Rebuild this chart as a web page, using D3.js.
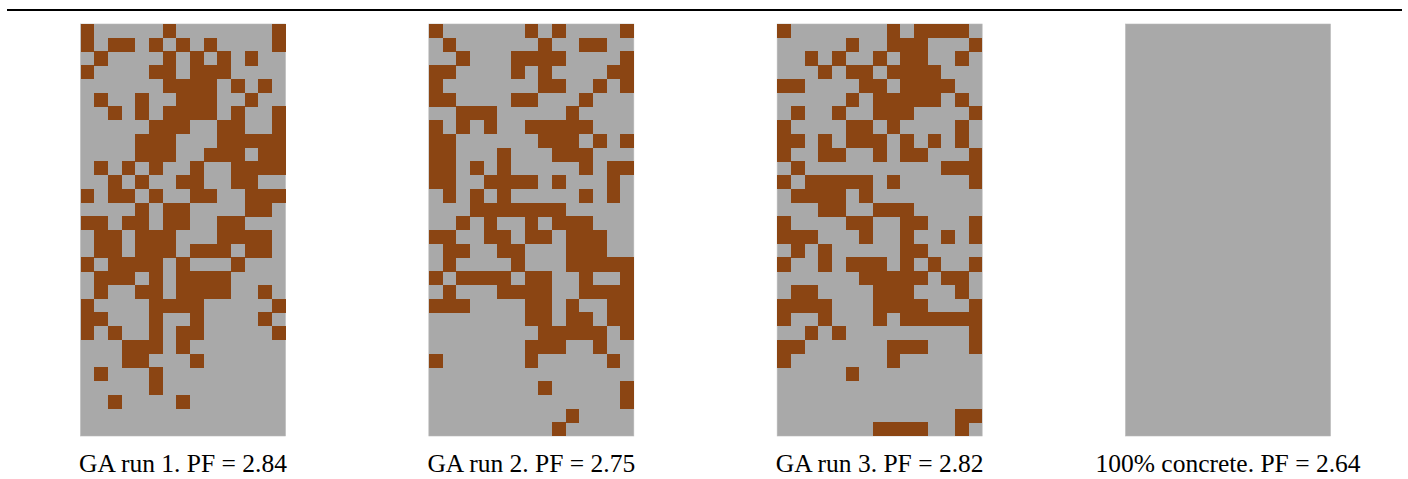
<!DOCTYPE html>
<html>
<head>
<meta charset="utf-8">
<script src="https://cdn.jsdelivr.net/npm/d3@7"></script>
<style>
  html, body { margin: 0; padding: 0; background: #ffffff; }
  svg { display: block; }
</style>
</head>
<body>
<svg id="chart" width="1408" height="479"></svg>
<script>
// ---- Data ----
const panelIds = ["run1", "run2", "run3", "concrete"];
const captions = ["GA run 1. PF = 2.84", "GA run 2. PF = 2.75", "GA run 3. PF = 2.82", "100% concrete. PF = 2.64"];
const materials = ["concrete", "brick"];  // '.' = concrete, '#' = second material

const gridRun1 = [
  "#.....#.......#",
  "#.##.#.#.#....#",
  ".#....#.#.#.#..",
  "#....##.###....",
  "......####.#.#.",
  ".#..#..###..#..",
  "..#.#.####.#..#",
  ".....###..##..#",
  "....###...#####",
  "....###..###.##",
  ".#.#.#..#..####",
  "..#.#..##..##..",
  "#.##.#..##..###",
  "....#.##....##.",
  "##.##.##..##...",
  ".##.###...####.",
  ".##.###.###.##.",
  "#.####.#...#...",
  ".###.#.####....",
  ".#..##.####..#.",
  "#....####.....#",
  "##...#..#....#.",
  "#.#..#.##.....#",
  "...###.#.......",
  "...##...#......",
  ".#...#.........",
  ".....#.........",
  "..#....#.......",
  "...............",
  "..............."
];

const gridRun2 = [
  "#......#.#....#",
  ".#......#..##..",
  "..#...####....#",
  "##....#.#....##",
  "#.......##..#.#",
  "##....##...#...",
  "..###.....#....",
  "#.#.#..#####...",
  "##......###.#.#",
  "##...#...###...",
  "##.#.#.....#.##",
  "##..####.#...#.",
  ".#.#.#.....#.#.",
  "...#######.....",
  "..#.#..#.###...",
  "##..##.##.###..",
  ".##..##...###..",
  ".#....#...#####",
  "#.####.##..#..#",
  ".#...####..####",
  "###....##.#..##",
  ".......##.##.##",
  "........#####.#",
  ".......###..#..",
  "#......#.....#.",
  "...............",
  "........#.....#",
  "..............#",
  "..........#....",
  ".........#....."
];

const gridRun3 = [
  "#.......#.####.",
  ".....#..###...#",
  "..#.#..#.##..#.",
  "...#.##.####...",
  "##....##.####..",
  ".....#.#####.#.",
  ".#..#..###....#",
  "#....##.#....#.",
  "##.#.###.#.#.#.",
  "#..##..#.##...#",
  ".#..........###",
  "#.#####.#.....#",
  ".####.#........",
  "...##..###.....",
  "#....##..##...#",
  "###...#..#..#.#",
  ".#.#.....##....",
  "#..#.###.#.#..#",
  "......#####.##.",
  ".##....###...#.",
  "####...####...#",
  "#..#...#.######",
  "..#.#.........#",
  "##......###...#",
  "#.......#......",
  ".....#.........",
  "...............",
  "...............",
  ".............##",
  ".......####..#."
];

const gridConcrete = [
  "...............", "...............", "...............", "...............", "...............",
  "...............", "...............", "...............", "...............", "...............",
  "...............", "...............", "...............", "...............", "...............",
  "...............", "...............", "...............", "...............", "...............",
  "...............", "...............", "...............", "...............", "...............",
  "...............", "...............", "...............", "...............", "..............."
];

const grids = [gridRun1, gridRun2, gridRun3, gridConcrete];

// ---- Layout ----
const panelW = 205, panelH = 412, panelTop = 24;
const svg = d3.select("#chart");

// top rule
svg.append("line")
  .attr("x1", 7).attr("x2", 1402)
  .attr("y1", 10).attr("y2", 10)
  .attr("stroke", "#000").attr("stroke-width", 2);

const panelX = d3.scalePoint().domain(panelIds).range([183, 1228]);
const color = d3.scaleOrdinal().domain(materials).range(["#A9A9A9", "#8B4513"]);

const nCols = gridRun1[0].length, nRows = gridRun1.length;
const xCell = d3.scaleBand().domain(d3.range(nCols)).range([0, panelW]);
const yCell = d3.scaleBand().domain(d3.range(nRows)).range([0, panelH]);

panelIds.forEach((id, i) => {
  const g = svg.append("g")
    .attr("transform", `translate(${panelX(id) - panelW / 2},${panelTop})`);
  // concrete background of the section
  g.append("rect")
    .attr("x", 0).attr("y", 0)
    .attr("width", panelW).attr("height", panelH)
    .attr("fill", color("concrete"))
    .attr("stroke", "#B8B8B8").attr("stroke-width", 0.6);

  const cells = [];
  grids[i].forEach((row, r) => {
    row.split("").forEach((ch, c) => {
      cells.push({ r, c, m: ch === "#" ? "brick" : "concrete" });
    });
  });
  g.selectAll("rect.cell")
    .data(cells.filter(d => d.m === "brick"))
    .join("rect")
    .attr("class", "cell")
    .attr("x", d => xCell(d.c))
    .attr("y", d => yCell(d.r))
    .attr("width", xCell.bandwidth() + 0.3)
    .attr("height", yCell.bandwidth() + 0.3)
    .attr("fill", d => color(d.m))
    .attr("shape-rendering", "crispEdges");

  svg.append("text")
    .attr("x", panelX(id))
    .attr("y", 472)
    .attr("text-anchor", "middle")
    .attr("font-family", "'Liberation Serif', 'Times New Roman', serif")
    .attr("font-size", 25.5)
    .attr("fill", "#000")
    .text(captions[i]);
});
</script>
</body>
</html>
